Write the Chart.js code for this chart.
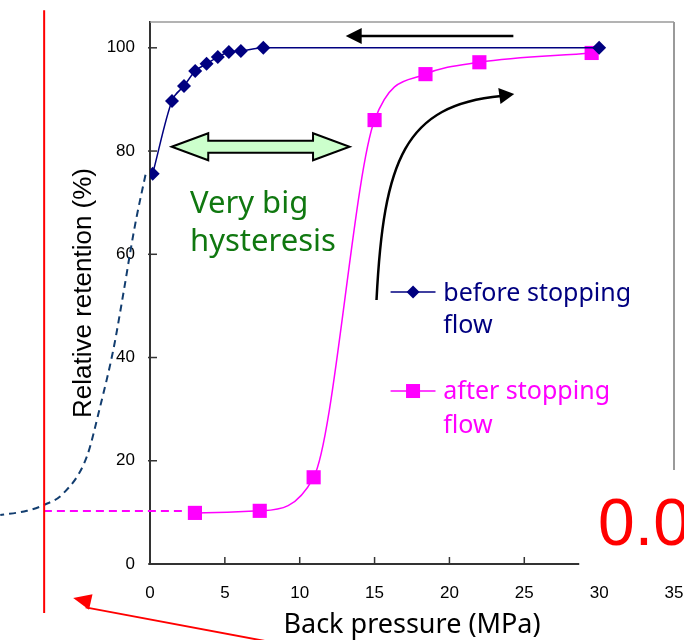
<!DOCTYPE html>
<html>
<head>
<meta charset="utf-8">
<script src="https://cdn.jsdelivr.net/npm/chart.js@4.4.0/dist/chart.umd.min.js"></script>
<style>
  html, body { margin: 0; padding: 0; background: #fff; }
  #wrap { width: 684px; height: 640px; }
</style>
</head>
<body>
<div id="wrap"><canvas id="chart" width="684" height="640"></canvas></div>
<script>
// back pressure (MPa) vs relative retention (%)
const beforeX = [0.18, 1.47, 2.27, 3.02, 3.78, 4.53, 5.27, 6.07, 7.57, 30];
const beforeY = [75.6, 89.7, 92.6, 95.5, 96.9, 98.2, 99.2, 99.4, 100, 100];
const afterX = [3.0, 7.33, 10.93, 15.0, 18.4, 22.0, 29.5];
const afterY = [9.9, 10.3, 16.8, 86.0, 94.9, 97.2, 99.0];
// dashed guess of the curve left of the axis (x descending on purpose)
const extraX = [-0.3, -0.89, -1.22, -1.78, -2.45, -3.33, -4.22, -5.78, -7.11, -8.22, -10];
const extraY = [75.4, 67.3, 62.1, 52.4, 41.5, 30.5, 20.8, 13.7, 11.4, 10.3, 9.5];
const levelX = [2.13, -7.07];
const levelY = [10.27, 10.27];
const xTicks = [0, 5, 10, 15, 20, 25, 30, 35];
const yTicks = [0, 20, 40, 60, 80, 100];

const NAVY = '#000080';
const PINK = '#ff00ff';
const GREEN = '#107810';

function pts(xs, ys) {
    return xs.map((x, i) => ({x: x, y: ys[i]}));
}

function arrowHead(ctx, x1, y1, x2, y2, len, half) {
    const a = Math.atan2(y2 - y1, x2 - x1);
    ctx.beginPath();
    ctx.moveTo(x2, y2);
    ctx.lineTo(x2 - len * Math.cos(a) + half * Math.sin(a), y2 - len * Math.sin(a) - half * Math.cos(a));
    ctx.lineTo(x2 - len * Math.cos(a) - half * Math.sin(a), y2 - len * Math.sin(a) + half * Math.cos(a));
    ctx.closePath();
    ctx.fill();
}

const notes = {
    id: 'notes',
    afterDatasetsDraw(chart) {
        const ctx = chart.ctx;
        const xs = chart.scales.x, ys = chart.scales.y;
        const X = v => xs.getPixelForValue(v);
        const Y = v => ys.getPixelForValue(v);
        const a = chart.chartArea;
        ctx.save();

        // plot frame top / right
        ctx.strokeStyle = '#9a9a9a';
        ctx.lineWidth = 1.5;
        ctx.beginPath(); ctx.moveTo(a.left, a.top); ctx.lineTo(a.right, a.top); ctx.stroke();
        ctx.lineWidth = 2;
        ctx.beginPath(); ctx.moveTo(a.right, a.top); ctx.lineTo(a.right, a.bottom); ctx.stroke();

        // inside tick marks
        ctx.strokeStyle = '#333';
        ctx.lineWidth = 1.5;
        yTicks.forEach(v => {
            ctx.beginPath(); ctx.moveTo(a.left - 2, Y(v)); ctx.lineTo(a.left + 7, Y(v)); ctx.stroke();
        });
        xTicks.forEach(v => {
            ctx.beginPath(); ctx.moveTo(X(v), a.bottom + 1); ctx.lineTo(X(v), a.bottom - 7); ctx.stroke();
        });

        // hysteresis double arrow
        const cy = Y(80.84), l = X(1.45), lb = X(3.89), rb = X(10.89), r = X(13.33);
        ctx.beginPath();
        ctx.moveTo(l, cy);
        ctx.lineTo(lb, cy - 13.5); ctx.lineTo(lb, cy - 6); ctx.lineTo(rb, cy - 6); ctx.lineTo(rb, cy - 13.5);
        ctx.lineTo(r, cy);
        ctx.lineTo(rb, cy + 13.5); ctx.lineTo(rb, cy + 6); ctx.lineTo(lb, cy + 6); ctx.lineTo(lb, cy + 13.5);
        ctx.closePath();
        ctx.fillStyle = '#ccffcc';
        ctx.fill();
        ctx.strokeStyle = '#000';
        ctx.lineWidth = 2;
        ctx.stroke();

        ctx.fillStyle = GREEN;
        ctx.font = '31px "Noto Sans"';
        ctx.textAlign = 'left';
        ctx.textBaseline = 'alphabetic';
        ctx.fillText('Very big', X(2.67), Y(68.0));
        ctx.fillText('hysteresis', X(2.67), Y(60.7));

        // black arrows
        ctx.strokeStyle = '#000';
        ctx.fillStyle = '#000';
        ctx.lineWidth = 2.5;
        ctx.beginPath(); ctx.moveTo(X(24.27), Y(102.3)); ctx.lineTo(X(14.0), Y(102.3)); ctx.stroke();
        arrowHead(ctx, X(24.27), Y(102.3), X(13.07), Y(102.3), 16, 8);

        ctx.beginPath();
        ctx.moveTo(X(15.13), Y(51.14));
        ctx.bezierCurveTo(X(15.6), Y(78.26), X(17.0), Y(88.92), X(23.47), Y(90.66));
        ctx.stroke();
        arrowHead(ctx, X(23.2), Y(90.6), X(24.33), Y(91.05), 15, 8);

        // legend
        ctx.font = '25px "Noto Sans"';
        ctx.lineWidth = 1.5;
        ctx.strokeStyle = NAVY; ctx.fillStyle = NAVY;
        ctx.beginPath(); ctx.moveTo(X(16.07), Y(52.69)); ctx.lineTo(X(19.07), Y(52.69)); ctx.stroke();
        const dx = X(17.57), dy = Y(52.69);
        ctx.beginPath(); ctx.moveTo(dx, dy - 6.5); ctx.lineTo(dx + 6.5, dy); ctx.lineTo(dx, dy + 6.5); ctx.lineTo(dx - 6.5, dy); ctx.closePath(); ctx.fill();
        ctx.fillText('before stopping', X(19.59), Y(50.95));
        ctx.fillText('flow', X(19.59), Y(44.83));

        ctx.strokeStyle = PINK; ctx.fillStyle = PINK;
        ctx.beginPath(); ctx.moveTo(X(16.07), Y(33.51)); ctx.lineTo(X(19.07), Y(33.51)); ctx.stroke();
        ctx.fillRect(X(17.57) - 7, Y(33.51) - 7, 14, 14);
        ctx.fillText('after stopping', X(19.59), Y(32.06));
        ctx.fillText('flow', X(19.59), Y(25.38));

        // red marker line and arrow
        ctx.strokeStyle = '#ff0000'; ctx.fillStyle = '#ff0000';
        ctx.lineWidth = 2;
        ctx.beginPath(); ctx.moveTo(X(-7.07), Y(107.3)); ctx.lineTo(X(-7.07), Y(-9.5)); ctx.stroke();
        ctx.beginPath(); ctx.moveTo(X(7.67), Y(-14.9)); ctx.lineTo(X(-4.3), Y(-8.4)); ctx.stroke();
        arrowHead(ctx, X(7.67), Y(-14.9), X(-5.13), Y(-6.6), 18, 8);

        // pasted patch covering the lower right corner
        ctx.fillStyle = '#fff';
        ctx.fillRect(X(28.67), Y(18.21), chart.width - X(28.67), Y(-2.7) - Y(18.21));
        ctx.fillStyle = '#ff0000';
        ctx.font = '66px "Liberation Sans"';
        ctx.fillText('0.0', X(29.93), Y(3.68));

        ctx.restore();
    }
};

Chart.defaults.font.family = '"Liberation Sans", Arial, sans-serif';
Chart.defaults.color = '#000';

new Chart(document.getElementById('chart'), {
    type: 'scatter',
    data: {
        datasets: [
            {
                label: 'before stopping flow',
                data: pts(beforeX, beforeY),
                showLine: true,
                borderColor: NAVY,
                backgroundColor: NAVY,
                borderWidth: 1.5,
                pointStyle: 'rectRot',
                pointRadius: 7,
                pointBorderWidth: 0,
                cubicInterpolationMode: 'monotone'
            },
            {
                label: 'after stopping flow',
                data: pts(afterX, afterY),
                showLine: true,
                borderColor: PINK,
                backgroundColor: PINK,
                borderWidth: 1.5,
                pointStyle: 'rect',
                pointRadius: 10,
                pointBorderWidth: 0,
                cubicInterpolationMode: 'monotone'
            },
            {
                label: 'extrapolation',
                data: pts(extraX, extraY),
                showLine: true,
                clip: false,
                borderColor: '#123d6f',
                borderWidth: 2,
                borderDash: [7, 5],
                pointRadius: 0,
                cubicInterpolationMode: 'monotone'
            },
            {
                label: 'level',
                data: pts(levelX, levelY),
                showLine: true,
                clip: false,
                borderColor: PINK,
                borderWidth: 2,
                borderDash: [8, 5],
                pointRadius: 0
            }
        ]
    },
    options: {
        responsive: false,
        animation: false,
        layout: { padding: { top: 22, right: 9, left: 0, bottom: 0 } },
        plugins: { legend: { display: false }, tooltip: { enabled: false } },
        scales: {
            x: {
                type: 'linear',
                min: 0,
                max: 35,
                afterBuildTicks: s => { s.ticks = xTicks.map(v => ({value: v})); },
                afterFit: s => { s.height = 76; s.paddingLeft = 0; s.paddingRight = 0; },
                grid: { drawOnChartArea: false, drawTicks: false },
                border: { color: '#333', width: 2 },
                ticks: { padding: 19, font: { size: 17 } },
                title: {
                    display: true,
                    text: 'Back pressure (MPa)',
                    font: { family: '"Noto Sans"', size: 27, lineHeight: 1.1 },
                    padding: 0
                }
            },
            y: {
                type: 'linear',
                min: 0,
                max: 105,
                afterBuildTicks: s => { s.ticks = yTicks.map(v => ({value: v})); },
                afterFit: s => { s.width = 150; s.paddingTop = 0; s.paddingBottom = 0; },
                grid: { drawOnChartArea: false, drawTicks: false },
                border: { color: '#333', width: 2 },
                ticks: { padding: 15, font: { size: 17 } },
                title: {
                    display: true,
                    text: 'Relative retention (%)',
                    font: { size: 26, lineHeight: 1.2 },
                    padding: { top: 68, bottom: 0 }
                }
            }
        }
    },
    plugins: [notes]
});
</script>
</body>
</html>
